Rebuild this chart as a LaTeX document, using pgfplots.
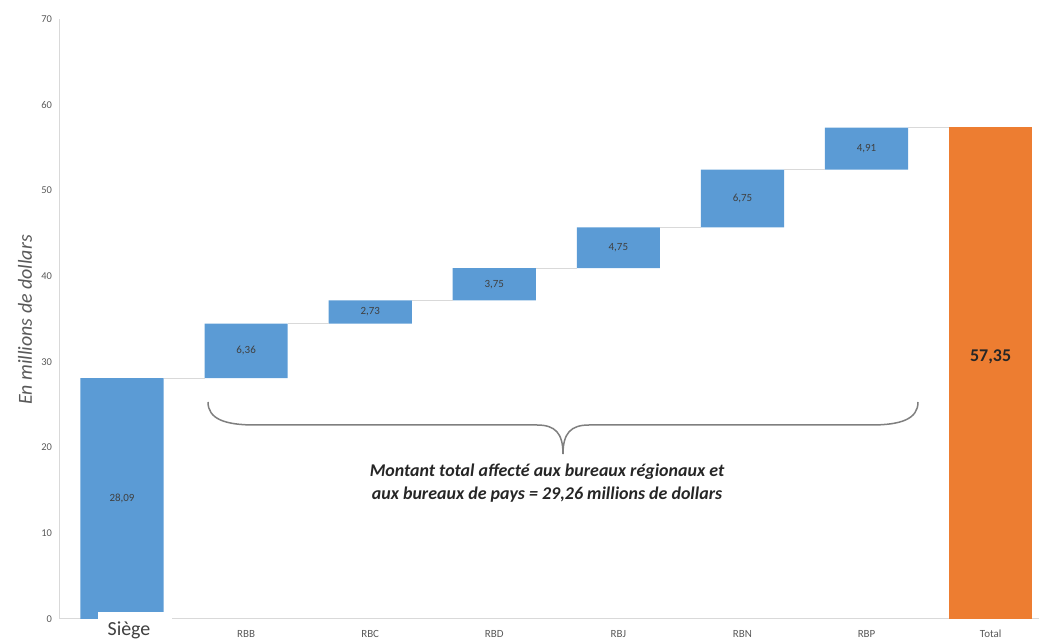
\documentclass[border=0pt]{standalone}
\usepackage{pgfplots}
\pgfplotsset{compat=1.18}
\usepackage{pgfplotstable}
\usepackage{fontspec}
\setmainfont{Carlito}
\definecolor{barblue}{HTML}{5B9BD5}
\definecolor{barorange}{HTML}{ED7D31}
\definecolor{axgray}{HTML}{D9D9D9}
\definecolor{tickgray}{HTML}{595959}
\definecolor{labgray}{HTML}{404040}
\definecolor{darktext}{HTML}{262626}
\definecolor{bracegray}{HTML}{7F7F7F}

\pgfplotstableread{
x base delta total
0 0 28.09 0
1 28.09 6.36 0
2 34.45 2.73 0
3 37.18 3.75 0
4 40.93 4.75 0
5 45.68 6.75 0
6 52.43 4.91 0
7 0 0 57.35
}\wf

\pgfplotstableread{
x y lab
0 14.05 28,09
1 31.27 6,36
2 35.82 2,73
3 39.06 3,75
4 43.31 4,75
5 49.06 6,75
6 54.89 4,91
}\labs

\begin{document}
\begin{tikzpicture}[x=1bp,y=1bp]
\path[use as bounding box] (-60,-20) rectangle (979,619);
\begin{axis}[
  at={(0,0)}, anchor=south west, scale only axis,
  width=979bp, height=600bp,
  xmin=-0.5, xmax=7.39, ymin=0, ymax=70,
  ybar stacked, bar width=0.67,
  axis x line*=bottom, axis y line*=left,
  axis line style={axgray, line width=1bp, -},
  major tick length=0pt,
  ytick={0,10,...,70},
  xtick={0,...,7},
  xticklabels={,RBB,RBC,RBD,RBJ,RBN,RBP,Total},
  /pgf/number format/assume math mode=true,
  yticklabel style={font=\fontsize{10.5}{12}\selectfont, text=tickgray, xshift=-4.5bp},
  xticklabel style={font=\fontsize{11}{12}\selectfont, text=tickgray, anchor=base, yshift=-19bp},
]
\addplot[fill=none, draw=none] table[x=x, y=base]{\wf};
\addplot[fill=barblue, draw=none] table[x=x, y=delta]{\wf};
\addplot[fill=barorange, draw=none] table[x=x, y=total]{\wf};
\end{axis}

\begin{axis}[
  at={(0,0)}, anchor=south west, scale only axis,
  width=979bp, height=600bp,
  xmin=-0.5, xmax=7.39, ymin=0, ymax=70,
  axis lines=none, ticks=none, clip=false,
]
\addplot[axgray, line width=1bp] coordinates {(0.335,28.09) (0.665,28.09)};
\addplot[axgray, line width=1bp] coordinates {(1.335,34.45) (1.665,34.45)};
\addplot[axgray, line width=1bp] coordinates {(2.335,37.18) (2.665,37.18)};
\addplot[axgray, line width=1bp] coordinates {(3.335,40.93) (3.665,40.93)};
\addplot[axgray, line width=1bp] coordinates {(4.335,45.68) (4.665,45.68)};
\addplot[axgray, line width=1bp] coordinates {(5.335,52.43) (5.665,52.43)};
\addplot[axgray, line width=1bp] coordinates {(6.335,57.35) (6.665,57.35)};
\addplot[draw=none, mark=none, nodes near coords, point meta=explicit symbolic,
  every node near coord/.style={anchor=center, font=\fontsize{11}{12}\selectfont, text=labgray}]
  table[x=x, y=y, meta=lab]{\labs};
\addplot[draw=none, mark=none, nodes near coords, point meta=explicit symbolic,
  every node near coord/.style={anchor=center, font=\bfseries\fontsize{18}{20}\selectfont, text=darktext}]
  coordinates {(7,30.6) [57,35]};
\end{axis}

% brace
\draw[bracegray, line width=1.5bp]
  (148,217) .. controls (148,200) and (165,194) .. (195,194) -- (477,194)
  .. controls (495,194) and (503,186) .. (503,165)
  .. controls (503,186) and (511,194) .. (529,194) -- (811,194)
  .. controls (841,194) and (858,200) .. (858,217);
\node[anchor=base, font=\bfseries\itshape\fontsize{18}{20}\selectfont, text=darktext] at (487,142)
  {Montant total affecté aux bureaux régionaux et};
\node[anchor=base, font=\bfseries\itshape\fontsize{18}{20}\selectfont, text=darktext] at (487,119)
  {aux bureaux de pays = 29,26 millions de dollars};

% Siège label
\fill[white] (38,7) rectangle (112,-21);
\node[anchor=base, font=\fontsize{20}{22}\selectfont, text=labgray, inner sep=0pt] at (69,-17) {Siège};

% y label
\node[rotate=90, font=\itshape\fontsize{20}{22}\selectfont, text=tickgray] at (-35,299) {En millions de dollars};
\end{tikzpicture}
\end{document}
